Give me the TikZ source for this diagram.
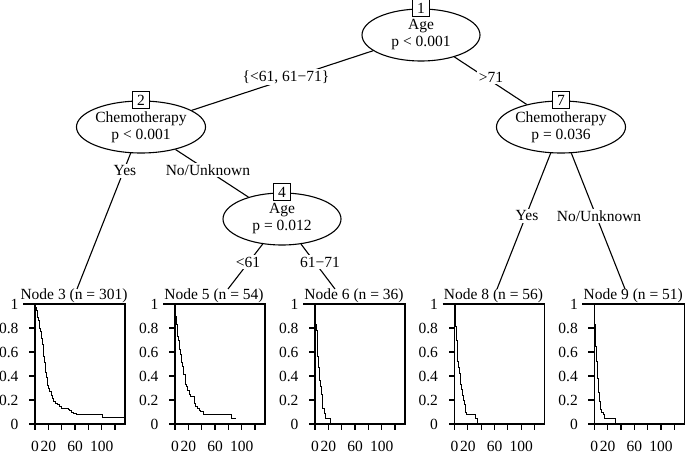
\documentclass[tikz,border=0pt]{standalone}
\usepackage{fontspec}
\setmainfont{Liberation Serif}
\usetikzlibrary{shapes.geometric}
\newcommand\diafont{\fontsize{15.5}{17}\selectfont}
\newcommand\kmpanel[4]{%
  % #1 left x, #2 name, #3 title, #4 curve path
  \begin{scope}[shift={(#1,424)}, x=0.6667pt, y=120pt]
    \draw (0,0) rectangle (135,1);
    \foreach \v/\l in {0/0,0.2/0.2,0.4/0.4,0.6/0.6,0.8/0.8,1/1}
      {\draw (0,\v) -- ++(-6pt,0);
       \node[ticklab, anchor=east, xshift=-16pt] at (0,\v) {\l};}
    \foreach \t in {0,20,40,60,80,100,120}
      {\draw (\t,0) -- ++(0,-6pt);}
    \foreach \t in {0,20,60,100}
      {\node[ticklab, yshift=-22pt] at (\t,0) {\t};}
    \draw[curve] (0,1) #4;
  \end{scope}
  \draw ({#1-12},304) -- ({#1+90},304);
  \node[ticklab] (#2) at ({#1+39},296) {#3};
}
\begin{document}
\begin{tikzpicture}[x=1pt,y=-1pt, line width=1.1pt,
  inner/.style={ellipse, draw, fill=white, minimum width=118pt, minimum height=52pt, inner sep=0pt, align=center, font=\diafont},
  idbox/.style={draw, fill=white, minimum size=17pt, inner sep=0pt, font=\diafont},
  elab/.style={fill=white, inner sep=1.5pt, font=\diafont},
  ticklab/.style={inner sep=0pt, font=\diafont},
  curve/.style={line width=1pt}]
\useasboundingbox (0,0) rectangle (685,454);

% inner nodes
\node[inner] (n1) at (421,35) {Age\\p < 0.001};
\node[inner] (n2) at (141,127) {Chemotherapy\\p < 0.001};
\node[inner] (n4) at (282,219) {Age\\p = 0.012};
\node[inner] (n7) at (561,127) {Chemotherapy\\p = 0.036};

% terminal panel tops
\coordinate (t3) at (77,289);
\coordinate (t5) at (228,289);
\coordinate (t6) at (335,289);
\coordinate (t8) at (497,289);
\coordinate (t9) at (625,289);

% edges
\draw (n1) -- (n2);
\draw (n1) -- (n7);
\draw (n2) -- (t3);
\draw (n2) -- (n4);
\draw (n4) -- (t5);
\draw (n4) -- (t6);
\draw (n7) -- (t8);
\draw (n7) -- (t9);

% id boxes
\node[idbox] (b1) at (n1.north) {1};
\node[idbox] (b2) at (n2.north) {2};
\node[idbox] (b4) at (n4.north) {4};
\node[idbox] (b7) at (n7.north) {7};

% edge labels
\node[elab] (l12) at (286,77) {\{<61, 61−71\}};
\node[elab] (l17) at (491,77) {>71};
\node[elab] (l23) at (125,171) {Yes};
\node[elab] (l24) at (208,170) {No/Unknown};
\node[elab] (l45) at (248,262) {<61};
\node[elab] (l46) at (320,262) {61−71};
\node[elab] (l78) at (527,216) {Yes};
\node[elab] (l79) at (599,216) {No/Unknown};

% terminal panels
\kmpanel{35}{h3}{Node 3 (n = 301)}{-| (0.5,0.99) -| (1,0.97) -| (2,0.95) -| (3,0.92) -| (4,0.89) -| (5,0.86) -| (6,0.83) -| (7,0.80) -| (8,0.77) -| (9,0.74) -| (10,0.71) -| (11,0.66) -| (12,0.61) -| (13,0.56) -| (14,0.51) -| (15,0.47) -| (16,0.43) -| (17,0.39) -| (18,0.35) -| (19,0.32) -| (20,0.30) -| (22,0.27) -| (24,0.24) -| (26,0.21) -| (28,0.19) -| (30,0.175) -| (33,0.16) -| (36,0.145) -| (40,0.133) -| (45,0.128) -| (50,0.122) -| (52,0.11) -| (54,0.097) -| (58,0.09) -| (62,0.083) -| (66,0.078) -| (101,0.058) -- (135,0.058)}
\kmpanel{175}{h5}{Node 5 (n = 54)}{-| (0.3,0.94) -| (1,0.90) -| (2,0.83) -| (3,0.77) -| (4,0.73) -| (5,0.70) -| (6,0.66) -| (7,0.62) -| (8,0.58) -| (9,0.54) -| (10,0.51) -| (11,0.48) -| (12,0.44) -| (13,0.41) -| (15,0.37) -| (16,0.33) -| (17.5,0.31) -| (19,0.28) -| (21,0.25) -| (22.5,0.23) -| (29,0.175) -| (31,0.15) -| (33,0.133) -| (36,0.115) -| (38,0.105) -| (42.5,0.078) -| (85,0.05) -- (91.5,0.05)}
\kmpanel{315}{h6}{Node 6 (n = 36)}{-| (0.3,0.83) -| (2,0.78) -| (3,0.64) -| (4,0.56) -| (5,0.47) -| (6,0.42) -| (7,0.36) -| (8,0.31) -| (9,0.28) -| (10,0.25) -| (11,0.18) -| (11.5,0.13) -| (14,0.09) -| (15,0.05) -| (22.5,0)}
\kmpanel{454.5}{h8}{Node 8 (n = 56)}{-| (1,0.98) -| (1.5,0.90) -| (2,0.81) -| (3,0.70) -| (4,0.60) -| (5,0.52) -| (6,0.47) -| (7.5,0.425) -| (8.5,0.38) -| (9.5,0.33) -| (11,0.29) -| (12,0.24) -| (13.5,0.20) -| (15,0.16) -| (16,0.13) -| (17,0.10) -| (18.5,0.078) -| (31,0.05) -| (34.5,0)}
\kmpanel{594.3}{h9}{Node 9 (n = 51)}{-| (0.2,0.83) -| (1.5,0.80) -| (2,0.72) -| (2.5,0.65) -| (3,0.58) -| (3.5,0.52) -| (4.5,0.45) -| (5,0.38) -| (6,0.31) -| (7,0.26) -| (8.5,0.19) -| (9,0.15) -| (10,0.12) -| (11,0.10) -| (13.5,0.078) -| (16,0.05) -| (32.5,0)}
\end{tikzpicture}
\end{document}
